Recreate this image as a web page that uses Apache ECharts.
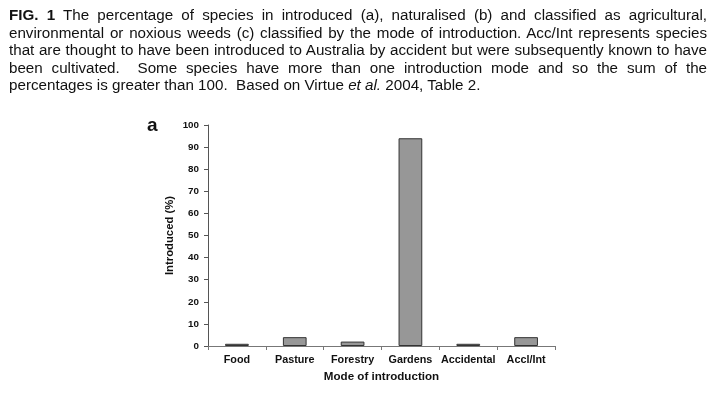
<!DOCTYPE html>
<html><head><meta charset="utf-8">
<script src="https://cdn.jsdelivr.net/npm/echarts@6/dist/echarts.min.js"></script>
<style>
html,body{margin:0;padding:0;background:#fff;}
#cap{position:absolute;left:9px;top:6px;width:698px;font-family:"Liberation Sans",Arial,sans-serif;font-size:15.2px;line-height:17.5px;color:#111;}
#cap div{white-space:nowrap;text-align:justify;text-align-last:justify;}
#cap div.last{text-align-last:left;}
#chart{position:absolute;left:0;top:0;width:716px;height:407px;}
</style></head>
<body>
<div id="chart"></div>
<div id="cap">
<div><span><b>FIG. 1</b> The percentage of species in introduced (a), naturalised (b) and classified as agricultural,</span></div>
<div><span>environmental or noxious weeds (c) classified by the mode of introduction. Acc/Int represents species</span></div>
<div><span>that are thought to have been introduced to Australia by accident but were subsequently known to have</span></div>
<div><span>been cultivated.&nbsp; Some species have more than one introduction mode and so the sum of the</span></div>
<div class="last"><span>percentages is greater than 100.&nbsp; Based on Virtue <i>et al.</i> 2004, Table 2.</span></div>
</div>
<script>
// fit each caption line into the column width
document.querySelectorAll('#cap div').forEach(d => {
  const s = d.querySelector('span');
  const w = s.getBoundingClientRect().width;
  const n = s.textContent.length;
  if (w > 696) d.style.letterSpacing = ((696 - w) / n) + 'px';
});

const categories = ['Food', 'Pasture', 'Forestry', 'Gardens', 'Accidental', 'Accl/Int'];
const introduced = [1, 4, 2, 94, 1, 4];
const yTicks = [0, 10, 20, 30, 40, 50, 60, 70, 80, 90, 100];

const chart = echarts.init(document.getElementById('chart'));
const font = '"Liberation Sans", Arial, sans-serif';
chart.setOption({
  animation: false,
  grid: {left: 208, right: 161, top: 125, bottom: 61, containLabel: false},
  graphic: [{type: 'text', left: 147, top: 116, style: {text: 'a', font: 'bold 19px ' + font, fill: '#111'}}],
  xAxis: {
    type: 'category', data: categories,
    name: 'Mode of introduction', nameLocation: 'middle', nameGap: 24,
    nameTextStyle: {fontFamily: font, fontSize: 11.6, fontWeight: 'bold', color: '#111'},
    axisLine: {lineStyle: {color: '#777', width: 1}},
    axisTick: {show: true, alignWithLabel: false, length: 4, lineStyle: {color: '#777'}},
    axisLabel: {fontFamily: font, fontSize: 10.8, fontWeight: 'bold', color: '#111', margin: 9, interval: 0}
  },
  yAxis: {
    type: 'value', min: 0, max: 100, interval: 10,
    name: 'Introduced (%)', nameLocation: 'middle', nameGap: 33, nameRotate: 90,
    nameTextStyle: {fontFamily: font, fontSize: 11.3, fontWeight: 'bold', color: '#111'},
    axisLine: {show: true, lineStyle: {color: '#555', width: 1}},
    axisTick: {show: true, length: 4, lineStyle: {color: '#555'}},
    splitLine: {show: false},
    axisLabel: {fontFamily: font, fontSize: 9.8, fontWeight: 'bold', color: '#111', margin: 9,
      formatter: v => yTicks.includes(v) ? String(v) : ''}
  },
  series: [{
    type: 'bar', data: introduced, barWidth: '41%',
    itemStyle: {color: '#979797', borderColor: '#333', borderWidth: 1}
  }]
});
</script>
</body></html>
